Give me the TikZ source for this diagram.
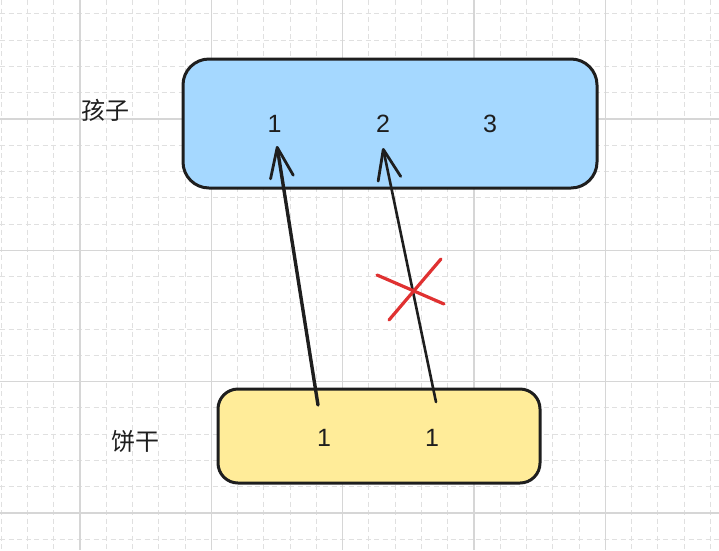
\documentclass[tikz,border=0pt]{standalone}
\usepackage{fontspec}
\setmainfont{Liberation Sans}
\newfontfamily\cjk{Noto Sans CJK SC}
\usetikzlibrary{arrows.meta}
\definecolor{ink}{HTML}{1E1E1E}
\definecolor{kidblue}{HTML}{A5D8FF}
\definecolor{cookieyellow}{HTML}{FFEC99}
\definecolor{xred}{HTML}{E03131}
\definecolor{gridmajor}{HTML}{D6D6D6}
\definecolor{gridminor}{HTML}{E0E0E0}
\tikzset{
  minorline/.style={draw=gridminor, line width=1pt, dash pattern=on 5pt off 3.5pt},
  majorline/.style={draw=gridmajor, line width=1.2pt},
  boxstyle/.style={draw=ink, line width=3pt, rectangle},
  label/.style={text=ink, font=\cjk\fontsize{24}{28}\selectfont, inner sep=0pt},
  digit/.style={text=ink, font=\fontsize{25}{30}\selectfont, inner sep=0pt},
  link/.style={draw=ink, line width=2.6pt, line cap=round, line join=round,
    -{Straight Barb[length=30pt, width=23pt, line width=2.8pt, round]}},
  cross/.style={draw=xred, line width=3.2pt, line cap=round},
}
\begin{document}
\begin{tikzpicture}[x=1pt, y=-1pt]
\useasboundingbox (0,0) rectangle (719,550);
\fill[white] (0,0) rectangle (719,550);
% grid
\foreach \i in {0,...,27} {
  \draw[minorline] ({1.19+26.27*\i},0) -- ({1.19+26.27*\i},550);
}
\foreach \j in {0,...,21} {
  \draw[minorline] (0,{13.92+26.27*\j}) -- (719,{13.92+26.27*\j});
}
\foreach \i in {0,...,4} {
  \draw[majorline] ({80+131.35*\i},0) -- ({80+131.35*\i},550);
}
\foreach \j in {0,...,3} {
  \draw[majorline] (0,{119+131.35*\j}) -- (719,{119+131.35*\j});
}
% boxes
\node[boxstyle, fill=kidblue, rounded corners=26pt, minimum width=414pt, minimum height=129pt] (kids) at (390,123.5) {};
\node[boxstyle, fill=cookieyellow, rounded corners=20pt, minimum width=322pt, minimum height=94pt] (cookies) at (379,436) {};
% labels
\node[label] (kidslabel) at (105,110) {孩子};
\node[label] (cookielabel) at (135,441) {饼干};
\node[digit] (k1) at (274.5,124) {1};
\node[digit] (k2) at (383,124) {2};
\node[digit] (k3) at (490,124) {3};
\node[digit] (c1) at (324,437.5) {1};
\node[digit] (c2) at (432,437.5) {1};
% connector ends
\coordinate (c1tail) at (318,405);
\coordinate (c2tail) at (436,402);
\coordinate (k1tip) at (277,146);
\coordinate (k2tip) at (383,148);
\draw[link, line width=3.4pt] (c1tail) -- (k1tip);
\draw[link] (c2tail) -- (k2tip);
% red cross
\coordinate (xa1) at (389,320);
\coordinate (xa2) at (441,259);
\coordinate (xb1) at (377,275);
\coordinate (xb2) at (444,304);
\draw[cross] (xa1) -- (xa2);
\draw[cross] (xb1) -- (xb2);
\end{tikzpicture}
\end{document}
